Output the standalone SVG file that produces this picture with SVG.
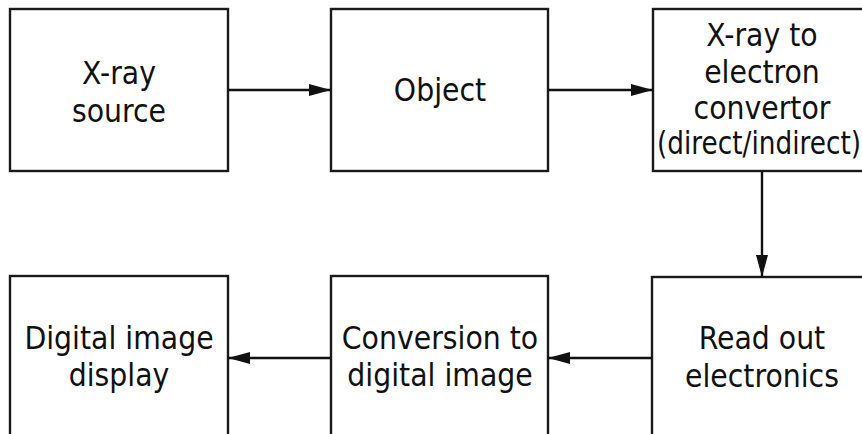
<svg xmlns="http://www.w3.org/2000/svg" width="862" height="434" viewBox="0 0 862 434">
  <style>
    .box { fill: #ffffff; stroke: #1a1a1a; stroke-width: 2.4; }
    .lbl { font-family: "DejaVu Sans Condensed", "DejaVu Sans", sans-serif; font-size: 31.5px; fill: #111111; text-anchor: middle; }
    .wire { fill: none; stroke: #111111; stroke-width: 2.4; }
  </style>
  <defs>
    <marker id="arrow" viewBox="0 0 22 12" refX="22" refY="6" markerWidth="22" markerHeight="12" markerUnits="userSpaceOnUse" orient="auto">
      <path d="M0,0 L22,6 L0,12 Z" fill="#111111"/>
    </marker>
  </defs>

  <rect width="862" height="434" fill="#ffffff"/>

  <g id="xray-source">
    <rect class="box" x="10" y="9" width="218" height="162"/>
    <text class="lbl" x="119" y="84">X-ray</text>
    <text class="lbl" x="119" y="122">source</text>
  </g>

  <g id="object">
    <rect class="box" x="331" y="9" width="217" height="162"/>
    <text class="lbl" x="440" y="101">Object</text>
  </g>

  <g id="converter">
    <rect class="box" x="653" y="9" width="218" height="162"/>
    <text class="lbl" x="762" y="46">X-ray to</text>
    <text class="lbl" x="762" y="83">electron</text>
    <text class="lbl" x="762" y="119">convertor</text>
    <!-- condensed so the closing parenthesis stays within the canvas -->
    <text class="lbl" x="759" y="154" textLength="204" lengthAdjust="spacingAndGlyphs">(direct/indirect)</text>
  </g>

  <g id="readout">
    <rect class="box" x="652" y="277" width="219" height="170"/>
    <text class="lbl" x="762" y="349">Read out</text>
    <text class="lbl" x="762" y="387">electronics</text>
  </g>

  <g id="digitizer">
    <rect class="box" x="331" y="276" width="217" height="170"/>
    <text class="lbl" x="440" y="349">Conversion to</text>
    <text class="lbl" x="440" y="386">digital image</text>
  </g>

  <g id="display">
    <rect class="box" x="10" y="276" width="218" height="170"/>
    <text class="lbl" x="119" y="349">Digital image</text>
    <text class="lbl" x="119" y="386">display</text>
  </g>

  <g id="connectors">
    <line class="wire" x1="228" y1="90" x2="331" y2="90" marker-end="url(#arrow)"/>
    <line class="wire" x1="548" y1="90" x2="653" y2="90" marker-end="url(#arrow)"/>
    <line class="wire" x1="762" y1="171" x2="762" y2="277" marker-end="url(#arrow)"/>
    <line class="wire" x1="652" y1="358" x2="548" y2="358" marker-end="url(#arrow)"/>
    <line class="wire" x1="331" y1="358" x2="228" y2="358" marker-end="url(#arrow)"/>
  </g>
</svg>
